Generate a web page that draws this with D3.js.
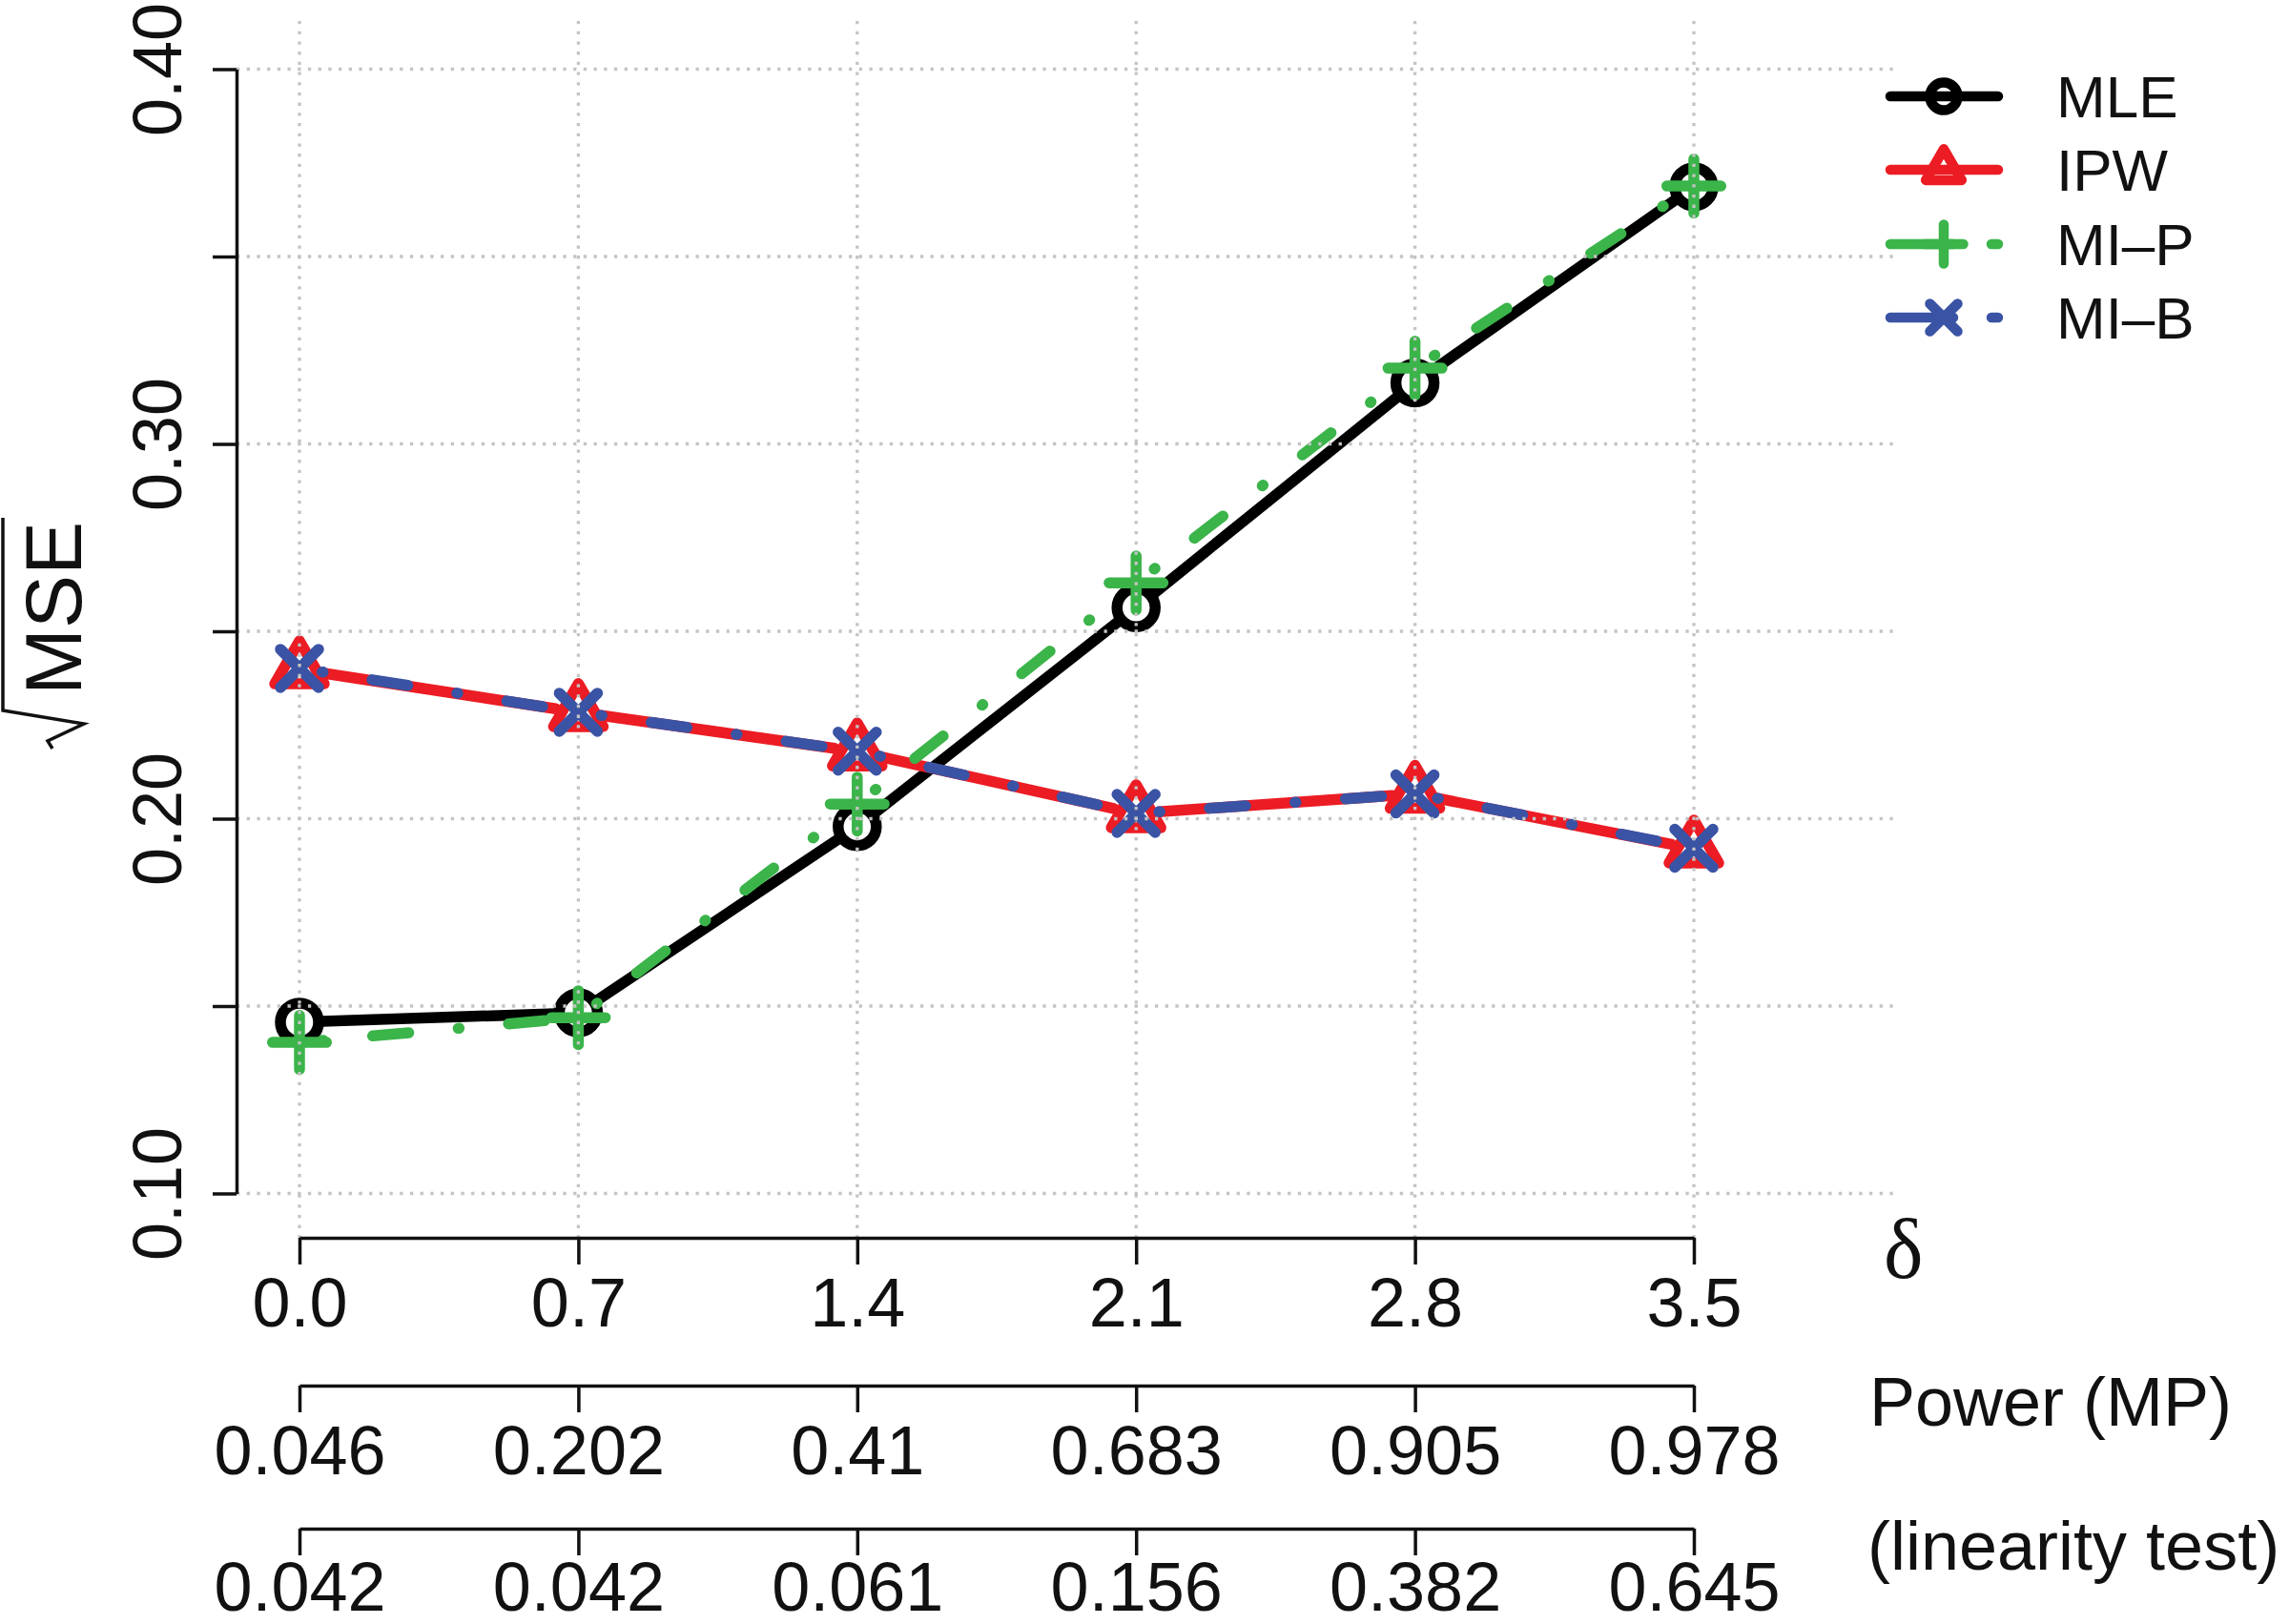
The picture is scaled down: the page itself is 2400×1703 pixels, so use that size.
<!DOCTYPE html>
<html><head><meta charset="utf-8">
<script src="https://cdn.jsdelivr.net/npm/d3@7"></script>
<style>
html,body{margin:0;padding:0;background:#fff;}
svg{display:block;}
</style>
</head><body>
<svg id="chart" width="2400" height="1703"></svg>
<script>
// ---------- data ----------
const delta = [0, 0.7, 1.4, 2.1, 2.8, 3.5];
const deltaLabels = ["0.0", "0.7", "1.4", "2.1", "2.8", "3.5"];
const powerMPLabels = ["0.046", "0.202", "0.41", "0.683", "0.905", "0.978"];
const powerLinLabels = ["0.042", "0.042", "0.061", "0.156", "0.382", "0.645"];

const mleValues = [0.1457, 0.1482, 0.1979, 0.2563, 0.3163, 0.3686];
const ipwValues = [0.2398, 0.2284, 0.2179, 0.2014, 0.2066, 0.1920];
const mipValues = [0.1403, 0.1469, 0.2039, 0.2629, 0.3202, 0.3688];
const mibValues = [0.2401, 0.2284, 0.2180, 0.2014, 0.2066, 0.1921];

const yTicks = [0.10, 0.15, 0.20, 0.25, 0.30, 0.35, 0.40];
const yTickLabels = ["0.10", "", "0.20", "", "0.30", "", "0.40"];

const seriesNames = ["MLE", "IPW", "MI\u2013P", "MI\u2013B"];
const seriesColors = ["#000000", "#ec1c24", "#3bb44a", "#3a53a4"];
const seriesSymbols = ["circle", "triangle", "plus", "cross"];
const seriesDashed = [false, false, true, true];
const axisTitles = ["Power (MP)", "(linearity test)"];

// ---------- setup ----------
const FONT = "'Liberation Sans', Arial, Helvetica, sans-serif";
const svg = d3.select("#chart");
const x = d3.scaleLinear().domain([0, 3.5]).range([314, 1776]);
const y = d3.scaleLinear().domain([0.10, 0.40]).range([1251.5, 72.5]);

const plotLeft = 248, plotRight = 1990, plotTop = 22, plotBottom = 1298;
const LW = 11.5;
const GAP = 24;
const DASH = "1,52,38,52";

function symbolPath(type, s) {
  if (type === "circle") {
    return `M${-s},0A${s},${s} 0 1,0 ${s},0A${s},${s} 0 1,0 ${-s},0Z`;
  } else if (type === "triangle") {
    const r = 1.5 * s, xc = r * Math.sqrt(3) / 2, yc = r / 2;
    return `M0,${-r}L${xc},${yc}L${-xc},${yc}Z`;
  } else if (type === "plus") {
    const h = 1.414 * s;
    return `M${-h},0H${h}M0,${-h}V${h}`;
  } else {
    const h = s;
    return `M${-h},${-h}L${h},${h}M${-h},${h}L${h},${-h}`;
  }
}

const allValues = [mleValues, ipwValues, mipValues, mibValues];
const dataG = svg.append("g");
const lineGen = d3.line();

allValues.forEach((vals, si) => {
  const g = dataG.append("g");
  const pts = delta.map((d, i) => [x(d), y(vals[i])]);
  const segs = [];
  for (let i = 0; i < pts.length - 1; i++) {
    const [x0, y0] = pts[i], [x1, y1] = pts[i + 1];
    const dx = x1 - x0, dy = y1 - y0, L = Math.hypot(dx, dy);
    const ux = dx / L, uy = dy / L;
    segs.push([[x0 + ux * GAP, y0 + uy * GAP], [x1 - ux * GAP, y1 - uy * GAP]]);
  }
  g.selectAll("path.seg").data(segs).join("path")
    .attr("class", "seg")
    .attr("d", d => lineGen(d))
    .attr("fill", "none")
    .attr("stroke", seriesColors[si])
    .attr("stroke-width", LW)
    .attr("stroke-linecap", "round")
    .attr("stroke-dasharray", seriesDashed[si] ? DASH : null);
  g.selectAll("path.pt").data(pts).join("path")
    .attr("class", "pt")
    .attr("transform", d => `translate(${d[0]},${d[1]})`)
    .attr("d", symbolPath(seriesSymbols[si], 20))
    .attr("fill", "none")
    .attr("stroke", seriesColors[si])
    .attr("stroke-width", LW)
    .attr("stroke-linecap", "round")
    .attr("stroke-linejoin", "round");
});

// ---------- grid (drawn on top, as in the reference) ----------
const gridG = svg.append("g");
gridG.selectAll("line.h").data(yTicks).join("line")
  .attr("x1", plotLeft).attr("x2", plotRight)
  .attr("y1", d => y(d)).attr("y2", d => y(d))
  .attr("stroke", "#c4c4c4").attr("stroke-width", 3.3)
  .attr("stroke-dasharray", "3.3,7.4");
gridG.selectAll("line.v").data(delta).join("line")
  .attr("x1", d => x(d)).attr("x2", d => x(d))
  .attr("y1", plotTop).attr("y2", plotBottom)
  .attr("stroke", "#c4c4c4").attr("stroke-width", 3.3)
  .attr("stroke-dasharray", "3.3,7.4");

// ---------- y axis ----------
const yAxisG = svg.append("g").attr("transform", `translate(${plotLeft},0)`)
  .call(d3.axisLeft(y).tickValues(yTicks).tickSize(25).tickSizeOuter(0)
    .tickFormat((d, i) => yTickLabels[i]));
yAxisG.select(".domain").attr("stroke-width", 3.5).attr("stroke", "#111");
yAxisG.selectAll(".tick line").attr("stroke-width", 3.5).attr("stroke", "#111");
yAxisG.selectAll(".tick text")
  .attr("font-family", FONT).attr("font-size", 72).attr("fill", "#111")
  .attr("text-anchor", "middle")
  .attr("x", 0).attr("y", -58).attr("dy", 0)
  .attr("transform", "rotate(-90)");

// ---------- bottom axes ----------
const axisYs = [1298, 1453, 1603];
const axisPads = [14, 14, 7];
const axisLabelSets = [deltaLabels, powerMPLabels, powerLinLabels];
axisYs.forEach((ay, k) => {
  const labels = axisLabelSets[k];
  const g = svg.append("g").attr("transform", `translate(0,${ay})`)
    .call(d3.axisBottom(x).tickValues(delta).tickSize(28).tickPadding(axisPads[k]).tickSizeOuter(0)
      .tickFormat((d, i) => labels[i]));
  g.select(".domain").attr("stroke-width", 3.5).attr("stroke", "#111");
  g.selectAll(".tick line").attr("stroke-width", 3.5).attr("stroke", "#111");
  g.selectAll(".tick text").attr("font-family", FONT).attr("font-size", 72).attr("fill", "#111");
});

// axis side titles
svg.append("text").attr("x", 1975).attr("y", 1340)
  .attr("font-family", "'Liberation Serif', 'Times New Roman', serif")
  .attr("font-size", 88).attr("fill", "#111").text("\u03B4");
svg.append("text").attr("x", 1960).attr("y", 1495)
  .attr("font-family", FONT).attr("font-size", 72).attr("fill", "#111").text(axisTitles[0]);
svg.append("text").attr("x", 1958).attr("y", 1646)
  .attr("font-family", FONT).attr("font-size", 72).attr("fill", "#111").text(axisTitles[1]);

// ---------- y label: sqrt(MSE) ----------
const yl = svg.append("g").attr("transform", "translate(85,663) rotate(-90)");
yl.append("text").attr("x", -66).attr("y", 0)
  .attr("font-family", FONT).attr("font-size", 84).attr("fill", "#111").text("MSE");
yl.append("path")
  .attr("d", "M-122,-30L-114,-35L-96,3L-82,-82H120")
  .attr("fill", "none").attr("stroke", "#111").attr("stroke-width", 3.5)
  .attr("stroke-linejoin", "miter");

// ---------- legend ----------
const legRows = [101, 178, 256, 333];
const legG = svg.append("g");
seriesNames.forEach((name, i) => {
  const ly = legRows[i];
  legG.append("line")
    .attr("x1", 1982).attr("x2", 2095).attr("y1", ly).attr("y2", ly)
    .attr("stroke", seriesColors[i]).attr("stroke-width", LW - 1)
    .attr("stroke-linecap", "round")
    .attr("stroke-dasharray", seriesDashed[i] ? "66,40,7,100" : null);
  legG.append("path")
    .attr("transform", `translate(2038,${ly})`)
    .attr("d", symbolPath(seriesSymbols[i], 14.5))
    .attr("fill", "none").attr("stroke", seriesColors[i]).attr("stroke-width", LW - 1)
    .attr("stroke-linecap", "round").attr("stroke-linejoin", "round");
  legG.append("text").attr("x", 2156).attr("y", ly).attr("dy", "0.36em")
    .attr("font-family", FONT).attr("font-size", 62).attr("fill", "#111").text(name);
});
</script>
</body></html>
